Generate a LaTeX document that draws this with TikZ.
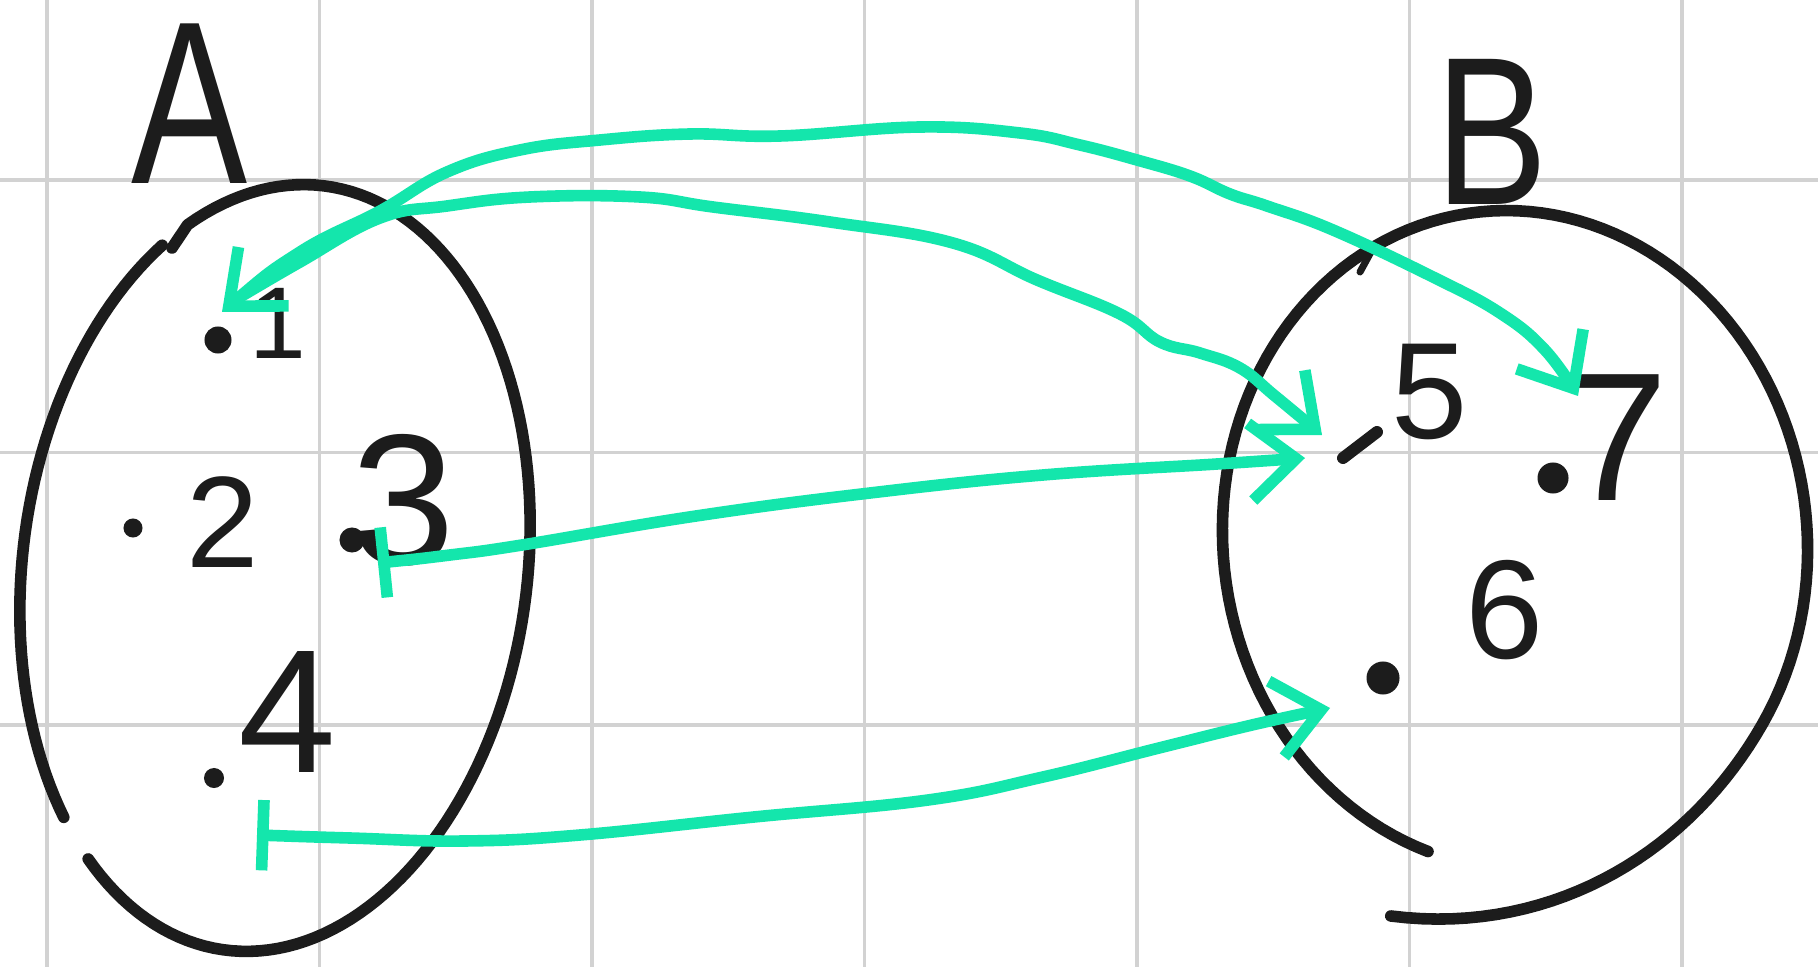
\documentclass[tikz,border=0pt]{standalone}
\usepackage{fontspec}
\setmainfont{Liberation Sans}
\usetikzlibrary{arrows.meta}
\definecolor{gridgray}{RGB}{210,210,210}
\definecolor{mint}{RGB}{20,230,172}
\definecolor{ink}{RGB}{28,28,28}
\begin{document}
\begin{tikzpicture}[x=0.01cm,y=-0.01cm,
  gridline/.style={gridgray,line width=0.9pt},
  outline/.style={ink,line width=3.3pt,line cap=round,line join=round},
  dot/.style={circle,fill=ink,inner sep=0pt},
  lbl/.style={ink,inner sep=0pt},
  mapline/.style={mint,line width=3.3pt,line cap=round,line join=round},
  head/.tip={Straight Barb[length=13pt,width=22pt]},
  tail/.tip={Bar[width=20pt]}
  ]
\useasboundingbox (0,0) rectangle (1818,967);
\fill[white] (0,0) rectangle (1818,967);
% grid
\foreach \x in {47,319.5,592,864.5,1137,1409.5,1682} \draw[gridline] (\x,0) -- (\x,967);
\foreach \y in {180,452.5,725} \draw[gridline] (0,\y) -- (1818,\y);
% set A (two strokes of a skewed oval)
\draw[outline] plot[domain=136.8:234.7, samples=50]
  ({275 + 252*cos(\x) - 40.2*sin(\x)}, {568 + 383*sin(\x) + 17.6*cos(\x)});
\draw[outline] (172,248) -- plot[domain=-119.1:128, samples=120]
  ({275 + 252*cos(\x) - 40.2*sin(\x)}, {568 + 383*sin(\x) + 17.6*cos(\x)});
% set B (open spiral-like oval)
\draw[outline] plot[domain=115.2:478.1, samples=150]
  ({1515 + (1+0.23*pow(max(0,(\x-400)/78.1),2))*(292*cos(\x)*cos(7) + 330*sin(\x)*sin(7))},
   {540 + (1+0.23*pow(max(0,(\x-400)/78.1),2))*(-292*cos(\x)*sin(7) + 330*sin(\x)*cos(7))});
\draw[outline,line width=2pt] (1360,272) -- (1372,250);
% set labels
\node[lbl,font=\fontsize{66}{66}\selectfont] (labA) at (190,104) {\scalebox{0.75}[1]{A}};
\node[lbl,font=\fontsize{60}{60}\selectfont] (labB) at (1492,132) {\scalebox{0.8}[1]{B}};
% elements
\node[dot,minimum size=0.27cm] (d1) at (218,340) {};
\node[dot,minimum size=0.19cm] (d2) at (133,528) {};
\node[dot,minimum size=0.25cm] (d3) at (352,540) {};
\node[dot,minimum size=0.2cm] (d4) at (214,778) {};
\draw[ink,line width=3.4pt,line cap=round] (1343,458) -- (1377,432);
\coordinate (d5) at (1360,445);
\node[dot,minimum size=0.33cm] (d6) at (1383,678) {};
\node[dot,minimum size=0.31cm] (d7) at (1553,478) {};
\node[lbl,font=\fontsize{29}{29}\selectfont] (l1) at (278,323) {1};
\node[lbl,font=\fontsize{37}{37}\selectfont] (l2) at (223,522) {2};
\node[lbl,font=\fontsize{53}{53}\selectfont] (l3) at (403,500) {3};
\node[lbl,font=\fontsize{50}{50}\selectfont] (l4) at (287,712) {4};
\node[lbl,font=\fontsize{39}{39}\selectfont] (l5) at (1430,392) {5};
\node[lbl,font=\fontsize{40}{40}\selectfont] (l6) at (1505,610) {6};
\node[lbl,font=\fontsize{52}{52}\selectfont] (l7) at (1617,438) {7};
% arrow end points
\coordinate (s1a) at (222,312);
\coordinate (e7) at (1578,396);
\coordinate (s1b) at (235,300);
\coordinate (e15) at (1322,435);
\coordinate (s3) at (378,563);
\coordinate (e35) at (1305,458);
\coordinate (s4) at (257,835);
\coordinate (e46) at (1330,708);
% mappings
\draw[mapline,{head}-{head}] plot[smooth,tension=0.7] coordinates {(s1a) (300,252) (380,211) (447,172) (520,150) (600,140) (690,134) (780,136) (920,127) (1020,133) (1080,145) (1137,160) (1190,176) (1230,194) (1267,206) (1333,230) (1433,277) (1500,313) (1545,350) (e7)};
\draw[mapline,-{head}] plot[smooth,tension=0.7] coordinates {(s1b) (300,262) (380,218) (447,206) (530,197) (640,197) (713,207) (830,222) (953,243) (1037,280) (1120,314) (1160,342) (1200,353) (1240,368) (1275,396) (e15)};
\draw[mapline,{tail}-{head}] plot[smooth,tension=0.7] coordinates {(s3) (450,555) (522,545) (696,516) (870,493) (1043,475) (1217,464) (e35)};
\draw[mapline,{tail}-{head}] plot[smooth,tension=0.7] coordinates {(s4) (350,838) (464,841) (580,835) (754,817) (928,800) (1043,777) (1159,748) (1252,725) (e46)};
\end{tikzpicture}
\end{document}
